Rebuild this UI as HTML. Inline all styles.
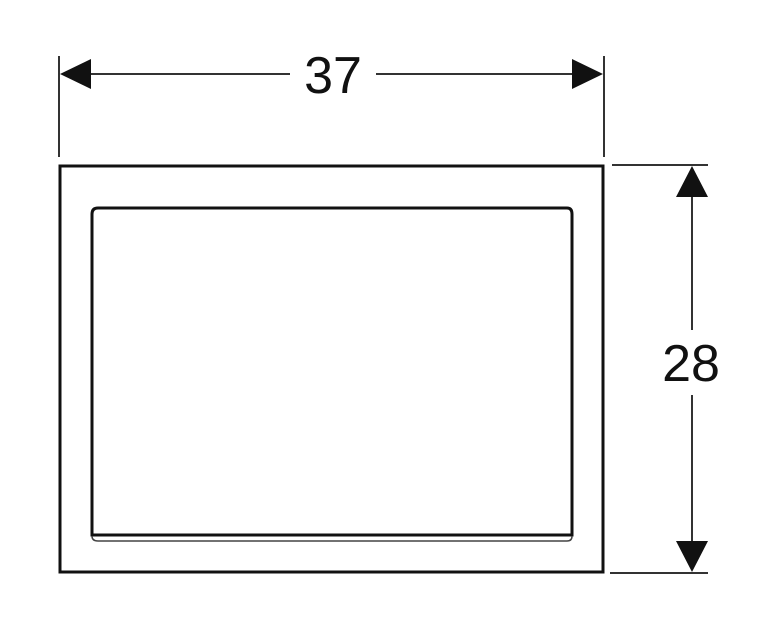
<!DOCTYPE html>
<html><head><style>body{margin:0;background:#fff}</style></head><body>
<svg width="758" height="630" viewBox="0 0 758 630" xmlns="http://www.w3.org/2000/svg">
<g stroke="#333" stroke-width="2" fill="none">
<line x1="59" y1="56" x2="59" y2="157"/>
<line x1="604" y1="56" x2="604" y2="157"/>
<line x1="80" y1="74" x2="290" y2="74"/>
<line x1="376" y1="74" x2="585" y2="74"/>
<line x1="612" y1="165" x2="708" y2="165"/>
<line x1="610" y1="573" x2="708" y2="573"/>
<line x1="692" y1="185" x2="692" y2="330"/>
<line x1="692" y1="395" x2="692" y2="555"/>
</g>
<g fill="#111">
<polygon points="60,74 91,59 91,89"/>
<polygon points="603,74 572,59 572,89"/>
<polygon points="692,166 676,197 708,197"/>
<polygon points="692,572 676,541 708,541"/>
</g>
<rect x="60" y="166" width="543" height="406" fill="none" stroke="#111" stroke-width="3"/>
<path d="M92,535 L92,214 Q92,208 98,208 L567,208 Q572,208 572,214 L572,535 Z" fill="none" stroke="#111" stroke-width="3"/>
<path d="M92,536 Q92,541 98,541 L567,541 Q572,541 572,536" fill="none" stroke="#444" stroke-width="1.5"/>
<g font-family="Liberation Sans, sans-serif" font-size="52" fill="#111" text-anchor="middle">
<text x="333" y="93">37</text>
<text x="691" y="381">28</text>
</g>
</svg>
</body></html>
